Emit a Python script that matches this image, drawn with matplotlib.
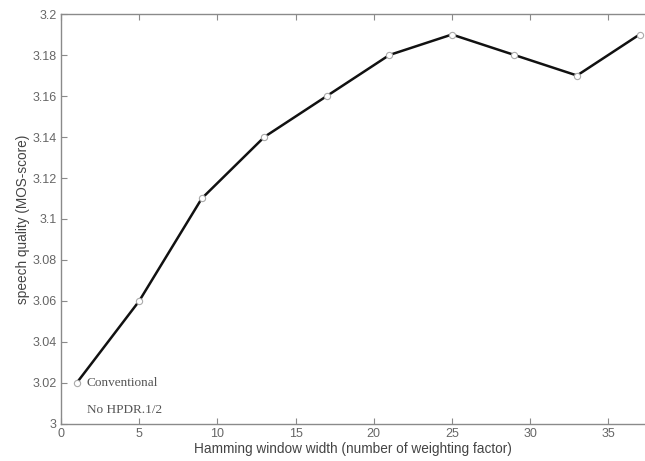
import matplotlib
matplotlib.use("Agg")
import matplotlib.pyplot as plt

x_vals = [1, 5, 9, 13, 17, 21, 25, 29, 33, 37]
mos = [3.02, 3.06, 3.11, 3.14, 3.16, 3.18, 3.19, 3.18, 3.17, 3.19]
xticks = [0, 5, 10, 15, 20, 25, 30, 35]
yticks = [3.0, 3.02, 3.04, 3.06, 3.08, 3.1, 3.12, 3.14, 3.16, 3.18, 3.2]
ytick_labels = ["3", "3.02", "3.04", "3.06", "3.08", "3.1", "3.12", "3.14", "3.16", "3.18", "3.2"]

plt.rcParams['font.family'] = ['Liberation Sans', 'DejaVu Sans']
fig = plt.figure(figsize=(6.45, 4.61), dpi=100)
ax = fig.add_axes([0.0946, 0.0803, 1 - 0.0946, 0.9696 - 0.0803])

gray = "#8a8a8a"
ax.plot(x_vals, mos, color="#111111", lw=1.8, marker="o", ms=4.5,
        mfc="white", mec="#aaaaaa", mew=0.8, zorder=3)

ax.set_xlim(0, 37.35)
ax.set_ylim(3.0, 3.2)
ax.set_xticks(xticks)
ax.set_yticks(yticks)
ax.set_yticklabels(ytick_labels)
ax.tick_params(direction="in", length=4, width=0.8, color=gray, labelcolor="#666666",
               labelsize=9, top=True, right=False, pad=3)
for s in ["left", "bottom", "top"]:
    ax.spines[s].set_color(gray)
    ax.spines[s].set_linewidth(1.0)
ax.spines["right"].set_visible(False)

ax.set_xlabel("Hamming window width (number of weighting factor)", fontsize=9.8, color="#444444", labelpad=1)
ax.set_ylabel("speech quality (MOS-score)", fontsize=9.8, color="#444444", labelpad=2)

ax.text(1.66, 3.02, "Conventional", family="Liberation Serif", fontsize=9.5,
        color="#555555", va="center", ha="left")
ax.text(1.66, 3.0068, "No HPDR.1/2", family="Liberation Serif", fontsize=9.5,
        color="#555555", va="center", ha="left")

fig.savefig("out.png", dpi=100)
